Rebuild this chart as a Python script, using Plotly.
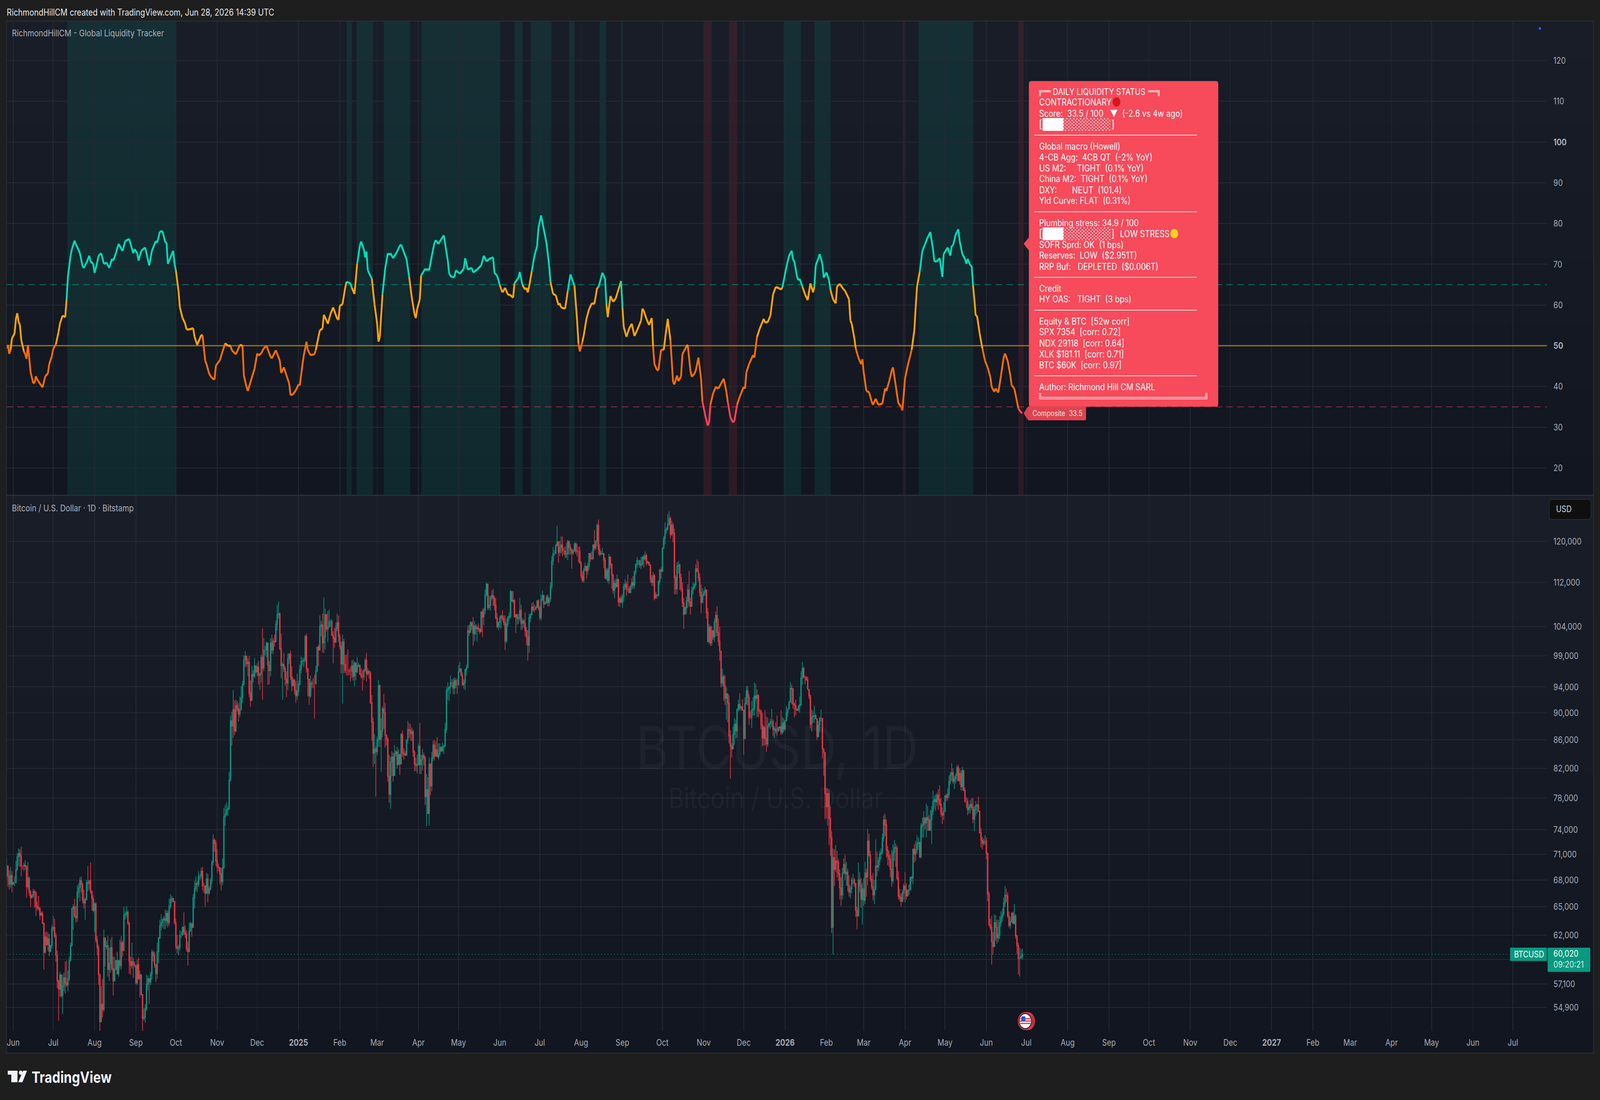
import plotly.graph_objects as go
import pandas as pd
import numpy as np

W, H = 4950, 2816
BASE = pd.Timestamp("2024-06-01")

# ---------------- data ----------------
# BTC daily bars, first bar 2024-05-27, values in thousand USD, ten bars per row
btc_high = [
70.6,69.7,69.1,69.5,69.0,67.8,68.4,70.2,71.1,71.7,
71.6,71.9,69.6,70.0,70.3,69.6,70.1,68.4,66.9,66.4,
67.0,66.9,66.6,65.6,66.2,65.0,64.5,64.5,63.3,62.3,
62.4,62.3,62.1,61.0,63.0,64.0,63.7,62.2,60.4,57.5,
58.3,58.0,58.0,58.2,59.3,59.4,58.4,59.8,61.2,64.9,
65.3,65.9,65.1,67.4,67.6,68.3,68.4,67.7,66.9,66.0,
68.0,69.6,68.0,70.0,66.8,66.3,65.5,65.5,61.9,61.0,
58.1,56.9,57.6,62.6,61.7,61.4,61.9,60.7,61.6,61.8,
59.8,59.8,59.3,60.3,59.4,61.5,61.9,61.4,65.0,64.5,
65.1,64.6,63.4,59.8,61.2,59.7,59.3,58.8,59.5,59.7,
58.4,57.9,56.0,54.8,55.2,58.0,57.9,57.7,58.3,60.5,
60.4,60.3,59.0,61.2,61.8,63.6,64.2,63.8,64.0,64.7,
64.6,64.6,65.9,66.4,66.2,66.0,65.6,63.7,62.0,61.0,
62.5,62.4,62.9,64.4,63.0,62.5,61.3,63.3,63.4,63.2,
66.4,67.9,68.4,67.9,69.0,68.7,69.4,69.5,67.7,67.4,
68.8,68.7,67.3,68.2,70.3,73.4,72.9,72.7,71.6,69.9,
69.4,69.4,70.5,76.7,77.1,77.4,77.0,81.5,89.6,90.2,
93.5,91.9,92.0,91.8,91.5,92.5,94.1,95.0,99.1,99.8,
99.0,98.6,99.0,95.0,97.4,96.7,98.7,97.4,97.8,98.2,
96.3,99.2,103.7,102.0,100.7,101.4,101.2,98.2,102.0,102.6,
102.0,102.6,105.1,107.9,108.5,106.5,102.8,97.9,99.5,97.3,
96.5,99.4,99.5,99.9,97.3,95.5,95.2,94.9,96.1,95.0,
97.6,98.9,98.7,98.8,102.6,102.8,97.0,95.3,95.8,95.0,
95.4,95.9,97.4,100.6,100.9,106.0,105.0,106.3,109.2,107.2,
106.3,106.8,107.0,105.2,105.3,103.2,103.8,104.7,106.3,106.0,
102.8,101.4,102.6,101.9,99.2,99.2,100.1,96.9,97.3,98.3,
98.4,98.1,98.0,98.8,97.9,97.6,97.0,96.7,96.9,98.7,
99.5,97.0,96.7,96.5,92.7,89.3,86.9,85.1,86.5,95.1,
94.4,89.2,91.0,92.9,91.5,86.8,86.4,83.9,83.6,84.4,
84.2,85.3,84.5,85.0,84.6,84.0,87.0,87.4,84.8,84.4,
86.0,88.8,88.5,88.3,87.8,87.5,84.5,83.5,83.9,85.5,
88.5,83.9,84.7,84.2,83.7,81.2,80.8,83.5,82.7,84.3,
85.9,86.0,85.8,86.4,85.5,85.5,85.1,85.6,85.3,88.5,
94.0,94.7,94.1,95.8,95.2,95.3,95.5,95.4,95.2,97.5,
98.0,96.9,96.3,95.2,96.9,97.6,104.2,104.3,105.0,104.9,
105.7,105.0,104.4,104.2,104.6,103.7,106.7,107.2,107.4,110.7,
112.0,111.8,109.6,109.5,110.5,110.8,109.5,109.1,106.4,104.9,
105.9,106.1,106.9,106.0,106.0,105.4,105.9,106.5,110.6,110.4,
110.4,108.9,106.2,106.3,106.2,109.1,107.9,105.5,105.3,106.5,
104.0,103.4,106.2,106.4,108.2,108.4,107.9,107.7,108.7,108.9,
107.7,109.7,110.5,109.7,108.5,109.7,109.8,109.2,112.0,117.1,
118.9,118.3,119.5,123.2,120.0,120.1,121.0,121.0,118.7,119.0,
119.7,120.3,120.1,119.5,118.6,118.4,119.8,119.8,119.5,118.9,
119.0,116.1,114.1,114.8,115.8,115.2,115.8,117.7,117.7,118.0,
119.3,122.3,120.1,123.7,124.5,119.4,118.1,118.7,117.6,116.8,
114.7,114.8,117.5,117.0,115.7,113.6,112.4,112.7,113.5,112.7,
109.3,109.6,109.9,111.8,112.6,112.2,113.5,111.3,111.6,112.8,
113.2,114.3,115.6,116.9,116.4,116.2,116.9,117.1,117.4,118.0,
117.6,116.2,115.9,115.5,113.4,114.0,113.6,110.2,109.7,112.4,
114.5,114.9,118.7,121.1,123.9,122.9,125.6,126.2,125.2,124.2,
123.8,122.6,113.4,115.9,116.1,115.6,113.7,112.0,109.1,107.6,
109.4,111.7,114.2,109.2,111.2,112.0,111.9,115.5,116.4,116.1,
113.7,111.6,110.9,110.5,111.2,110.7,107.3,104.5,104.2,104.1,
103.4,105.4,106.7,107.6,105.4,104.0,99.8,96.9,96.0,95.8,
93.9,93.0,92.7,87.4,85.5,88.0,89.2,89.0,90.7,92.0,
93.0,91.1,92.1,90.5,92.4,94.2,94.1,92.9,90.3,91.8,
92.4,94.7,94.5,93.6,92.8,90.6,90.5,90.0,88.1,90.4,
89.4,89.3,88.5,89.1,90.6,89.0,88.0,88.6,89.6,87.9,
88.0,90.4,89.4,89.2,88.9,91.0,90.6,91.9,94.8,94.4,
93.8,91.6,92.0,90.7,91.2,92.5,96.5,98.0,97.2,95.8,
95.6,95.6,93.6,92.8,90.5,90.3,91.1,89.8,89.1,88.8,
89.4,90.5,89.2,84.8,84.2,79.3,79.3,79.1,76.9,73.8,
71.7,71.6,72.1,71.4,70.4,69.2,68.3,69.4,70.5,70.9,
70.1,69.3,68.5,67.3,68.3,68.7,68.2,67.6,65.0,70.0,
68.9,68.2,67.7,68.2,70.1,69.3,74.1,73.5,71.4,68.5,
68.8,68.0,72.8,71.3,70.6,71.4,71.7,73.5,75.8,76.0,
75.3,72.0,71.4,71.0,71.5,72.2,72.7,72.3,72.0,69.0,
67.0,66.5,66.9,67.6,68.9,67.6,66.9,67.5,68.3,68.4,
71.6,72.2,72.6,73.3,73.0,72.5,74.8,75.5,76.3,75.6,
77.3,77.0,75.8,76.5,77.0,79.0,78.3,78.5,78.7,79.2,
79.7,78.0,76.8,77.5,78.4,78.6,79.3,81.0,81.5,82.7,
82.0,81.0,81.3,82.4,82.5,82.0,81.7,82.2,81.4,79.4,
78.1,78.0,77.2,77.8,78.0,78.0,77.0,77.6,77.3,78.2,
76.3,74.2,73.1,72.9,73.3,73.0,71.2,66.7,63.7,64.0,
62.3,64.2,64.1,63.6,63.6,64.0,64.5,64.8,66.0,67.3,
67.0,66.6,64.5,63.9,64.4,64.5,65.3,64.2,62.0,61.2,
60.7,60.5,60.6]

btc_low = [
68.0,67.2,66.9,67.1,66.6,67.4,67.3,67.6,69.0,69.6,
69.5,68.4,69.2,69.0,69.2,66.0,66.9,66.2,65.0,65.9,
66.0,64.9,64.0,64.6,64.6,63.6,64.0,63.2,58.5,60.2,
60.9,60.4,59.8,60.3,60.6,62.4,61.7,59.3,56.7,53.7,
55.9,55.8,54.3,56.4,56.2,56.8,56.4,57.4,59.3,60.8,
62.5,63.8,63.3,63.4,66.0,65.6,66.6,65.4,64.8,63.6,
65.7,66.7,66.9,66.4,64.6,64.4,62.3,61.2,59.9,57.0,
49.0,53.6,54.0,54.5,58.8,60.5,57.8,57.4,58.2,58.4,
56.0,57.4,58.6,58.0,57.8,58.6,58.5,59.8,60.4,63.6,
63.8,63.1,58.1,58.0,58.6,57.7,58.7,57.1,57.0,57.5,
55.8,56.0,52.5,53.7,53.5,54.6,56.5,55.2,57.0,57.5,
59.3,58.7,57.3,57.6,59.1,61.6,62.5,62.8,62.6,62.6,
63.0,62.8,63.0,64.8,65.4,65.5,63.1,60.5,60.1,59.9,
60.4,61.7,61.9,62.0,61.7,60.3,58.9,60.2,62.4,61.8,
62.7,64.8,66.7,66.6,67.2,68.0,68.1,66.8,66.5,65.0,
66.4,65.5,66.3,66.8,67.5,69.7,71.3,69.6,68.8,69.0,
67.5,66.8,67.4,69.3,74.5,75.7,75.7,76.5,80.2,85.2,
86.3,86.7,87.1,90.2,88.7,89.4,90.4,91.5,94.2,97.2,
97.2,95.7,92.4,90.9,91.8,94.7,95.4,96.1,95.7,94.4,
93.5,94.7,92.0,96.5,99.1,98.8,94.3,94.4,95.7,99.4,
99.3,100.6,101.3,103.3,105.4,100.0,95.4,92.0,96.4,94.2,
92.4,93.5,97.7,95.1,93.3,94.1,92.8,91.5,92.0,92.7,
94.2,96.2,97.5,97.2,97.9,96.3,92.5,91.2,92.3,93.8,
93.8,89.1,94.4,96.5,97.3,100.0,102.3,99.6,99.5,100.1,
103.2,101.3,103.9,104.0,102.6,97.8,100.4,101.3,103.2,101.3,
100.1,96.2,91.4,96.2,96.2,95.8,95.8,95.9,94.9,95.4,
95.0,94.1,95.1,96.2,97.2,96.0,95.3,93.4,95.1,96.4,
94.9,95.8,95.3,91.4,85.9,82.2,82.6,78.2,83.8,85.0,
85.0,81.5,86.4,87.6,84.9,85.2,80.2,77.4,76.6,80.9,
80.2,81.2,83.6,82.0,82.5,81.1,82.6,83.6,83.2,83.7,
83.8,85.5,86.3,85.9,85.8,83.6,81.6,81.6,81.3,82.4,
81.2,81.2,81.7,82.4,77.1,74.4,76.0,74.5,78.4,78.9,
83.0,83.1,83.6,83.6,83.2,83.7,84.3,84.4,84.0,85.1,
87.0,92.0,91.8,92.9,94.0,92.9,92.8,93.8,92.9,94.2,
96.4,95.8,94.2,93.7,93.5,95.8,97.0,102.4,102.9,103.4,
100.7,101.5,102.6,101.4,103.1,102.7,103.1,102.2,104.3,106.2,
109.4,106.9,107.0,106.8,108.8,107.7,106.9,105.3,103.7,103.4,
103.8,103.7,105.0,104.2,100.0,101.2,104.0,105.0,105.4,108.5,
108.2,105.7,102.9,104.3,104.5,105.0,103.4,103.5,103.8,102.3,
100.8,98.2,99.5,104.8,106.0,106.7,106.5,107.0,107.3,106.9,
105.2,105.1,108.5,107.3,107.9,108.1,107.6,107.6,108.4,110.7,
115.3,117.1,117.4,119.0,115.8,117.1,117.6,117.0,117.4,116.7,
116.7,116.3,117.4,117.3,114.6,117.3,117.9,117.5,117.0,115.9,
115.6,112.7,112.0,112.0,114.2,112.7,113.4,114.4,116.0,116.4,
116.5,118.1,118.3,119.0,117.3,117.0,117.3,117.4,114.7,112.7,
112.4,112.0,111.7,114.6,110.8,109.9,109.1,110.8,111.6,107.6,
107.5,108.2,107.3,108.5,110.6,109.5,110.3,110.0,110.1,110.7,
110.8,110.9,113.5,114.8,115.3,114.8,114.5,115.1,114.8,116.2,
115.2,115.6,115.2,112.0,111.4,111.3,108.7,109.1,109.0,109.4,
111.6,112.7,114.0,118.4,119.4,121.6,122.2,123.2,120.6,121.1,
119.8,109.8,109.8,109.8,113.7,110.6,110.3,107.5,103.6,106.3,
106.2,107.3,107.6,106.1,107.5,109.8,110.7,111.3,114.0,112.2,
109.4,106.4,108.4,109.4,109.6,105.4,101.4,101.0,100.7,100.7,
101.7,101.4,102.3,102.4,100.7,98.2,93.9,94.1,91.8,91.2,
89.0,88.6,85.5,80.6,83.5,84.7,85.3,86.2,86.3,90.2,
90.4,90.3,90.4,83.9,86.2,91.2,91.1,88.2,89.1,87.7,
89.6,89.6,91.7,89.3,89.4,89.8,87.5,85.1,85.2,85.2,
84.3,85.0,87.8,87.6,87.9,86.6,86.3,86.9,86.6,87.3,
87.4,86.7,86.8,87.1,87.3,88.7,89.4,90.6,91.6,91.3,
90.6,89.3,89.6,90.3,90.2,90.0,91.1,94.3,95.3,94.4,
95.0,93.6,92.1,87.7,87.2,88.5,88.5,89.1,86.0,86.4,
87.1,88.7,83.4,81.0,75.3,75.4,74.5,72.1,70.8,62.2,
60.0,67.3,68.9,68.3,67.9,65.8,65.1,65.8,68.7,68.0,
67.3,66.7,66.1,65.9,66.5,67.5,67.2,63.9,62.6,64.0,
66.6,64.9,63.1,65.1,65.3,66.1,67.4,70.7,67.8,66.9,
65.7,65.3,66.9,68.4,69.0,69.7,70.4,71.0,72.5,73.2,
70.6,69.7,69.5,68.3,67.2,67.6,70.2,69.5,68.0,65.8,
65.6,65.0,65.5,65.8,65.5,65.8,66.1,66.3,66.8,67.8,
67.5,70.0,70.2,71.1,71.6,70.5,70.5,73.0,73.0,74.0,
73.0,73.8,73.9,73.8,72.2,75.8,76.6,76.4,77.0,76.5,
77.0,75.6,74.7,75.2,76.2,77.6,77.7,78.0,79.8,80.3,
79.9,79.2,79.9,80.3,80.2,79.8,79.0,79.0,78.9,77.4,
76.7,75.8,76.0,76.0,76.4,74.8,73.8,75.7,76.0,76.2,
73.5,71.8,71.6,72.0,72.1,70.4,65.6,62.9,62.5,59.0,
60.0,60.8,61.4,61.1,61.3,61.6,62.9,63.4,64.0,65.0,
65.5,63.8,62.8,62.6,63.3,63.2,63.1,61.6,60.0,58.0,
57.8,59.6,59.5]

btc_close = [
69.6,68.4,67.5,68.5,67.5,67.7,67.7,69.2,70.7,71.1,
70.8,69.6,69.6,69.7,69.6,67.2,68.2,66.6,66.0,66.2,
66.7,66.6,65.1,64.9,64.8,64.1,64.3,63.2,60.2,61.8,
61.0,61.6,60.3,60.9,62.7,62.8,61.9,59.9,57.4,56.6,
58.0,56.0,56.9,57.7,57.2,57.0,57.6,59.4,60.9,64.8,
65.0,64.0,63.8,66.6,67.1,67.9,67.5,65.8,65.4,65.8,
67.7,67.6,67.9,66.7,65.9,64.6,65.3,61.5,60.7,58.0,
53.6,55.2,54.7,61.7,60.8,60.9,58.5,59.1,60.7,58.6,
57.4,58.5,59.4,58.1,59.4,58.9,61.2,60.4,64.1,64.2,
64.4,63.2,59.3,58.9,59.3,59.0,58.9,57.2,59.0,57.6,
58.0,56.1,53.9,54.0,54.8,57.1,57.6,57.3,58.0,60.2,
59.9,59.0,58.1,60.3,61.7,63.0,63.3,63.6,63.7,63.5,
64.3,63.3,65.1,65.8,65.9,65.6,63.3,60.8,60.6,60.7,
62.0,62.0,62.8,62.3,62.1,60.6,60.3,62.4,63.2,62.8,
66.0,67.0,67.6,67.5,68.4,68.4,69.0,67.3,67.3,66.5,
68.1,66.5,67.0,67.9,70.0,72.7,72.3,70.2,69.5,69.4,
68.7,67.8,69.4,75.6,75.9,76.5,76.6,80.4,88.8,88.0,
90.5,87.3,91.1,90.6,89.8,90.5,92.3,94.4,98.4,99.0,
97.7,98.0,93.0,91.9,96.0,95.7,97.4,96.4,97.2,95.8,
96.0,98.8,97.0,100.0,100.0,101.2,97.5,96.6,101.2,100.0,
101.5,101.4,104.4,106.1,106.3,100.2,97.4,97.6,96.9,95.2,
94.6,98.6,99.3,95.6,94.2,95.1,93.5,92.6,93.3,94.4,
96.8,98.1,98.2,98.3,102.3,96.9,95.2,92.6,94.6,94.5,
94.5,94.5,96.5,100.5,100.0,104.0,104.3,101.2,102.2,106.1,
103.6,103.9,104.9,104.9,102.5,102.0,101.3,103.7,104.7,102.3,
100.6,97.7,101.4,97.6,96.6,96.6,96.6,96.5,96.5,97.4,
95.7,97.8,96.4,97.4,97.5,96.0,95.7,95.6,96.6,98.3,
96.1,96.5,96.2,91.5,88.6,84.1,84.7,84.3,86.0,94.2,
86.1,87.3,90.6,90.0,86.7,86.1,80.9,78.5,82.9,83.6,
81.0,84.0,84.3,82.5,83.9,82.6,86.8,84.1,84.0,83.8,
86.0,87.5,87.4,86.9,87.2,84.3,82.6,82.4,82.5,85.1,
82.5,83.2,83.8,83.5,78.2,79.1,76.0,82.6,79.6,83.4,
85.3,83.7,84.6,83.6,84.0,84.9,84.4,85.0,85.1,87.5,
93.4,93.7,94.0,94.7,94.7,93.8,95.0,94.3,94.3,96.4,
96.9,95.8,94.3,94.7,96.8,97.1,103.3,103.0,104.7,104.1,
102.8,104.1,103.6,103.8,103.6,103.1,106.6,105.7,106.9,109.7,
111.7,107.4,107.8,109.2,109.6,109.1,107.8,105.5,104.0,104.7,
105.6,105.9,105.4,104.7,101.5,104.4,105.6,105.8,110.3,108.5,
108.7,105.7,106.1,105.4,105.5,106.9,104.6,105.0,104.6,103.3,
102.2,100.8,105.6,106.1,107.5,107.0,107.0,107.4,108.6,107.3,
105.6,108.8,109.6,108.0,108.2,109.3,108.3,109.0,111.3,116.1,
117.6,117.6,119.2,119.9,117.8,118.8,119.3,118.1,118.1,117.4,
117.5,120.0,118.8,118.3,117.7,118.0,119.5,118.1,118.0,118.0,
115.7,113.2,112.4,114.3,115.1,114.2,115.1,117.6,116.6,116.5,
119.3,118.7,120.1,123.3,118.4,117.4,117.5,117.6,116.3,112.8,
114.3,112.4,116.9,115.4,113.4,110.5,111.8,111.2,112.6,108.4,
109.0,108.3,109.3,111.2,111.7,110.8,110.8,110.1,111.2,112.0,
111.5,114.0,115.5,116.2,116.2,115.3,115.5,116.9,116.5,117.2,
115.7,115.9,115.3,112.7,112.0,113.3,109.1,109.7,109.6,112.2,
114.4,114.1,118.7,120.6,122.3,122.5,123.5,124.7,121.4,123.3,
121.7,112.9,110.8,115.1,115.3,112.9,110.8,108.2,106.2,107.3,
108.6,110.6,108.4,107.6,110.5,111.1,111.6,114.6,114.1,112.9,
110.1,108.3,109.6,110.1,110.6,106.5,101.4,103.9,101.2,103.3,
102.2,104.8,106.0,103.0,101.5,99.8,94.6,95.6,94.2,92.2,
92.9,91.5,86.6,85.1,84.7,86.8,88.3,87.3,90.5,91.3,
90.7,90.9,90.4,86.2,91.4,93.4,92.4,89.3,89.3,90.4,
90.6,92.6,92.2,92.7,90.3,90.2,88.2,86.3,87.8,86.2,
85.4,88.1,88.4,88.7,88.7,87.5,87.6,87.3,87.3,87.8,
87.9,87.1,88.5,87.6,88.8,90.0,90.6,91.6,93.8,93.7,
91.3,91.1,90.5,90.4,90.9,91.2,95.4,97.0,95.6,95.6,
95.1,93.6,92.6,88.3,89.4,89.5,89.6,89.1,86.5,88.2,
89.2,89.2,84.7,84.2,78.6,76.9,78.6,75.4,73.0,62.8,
70.6,69.2,70.2,70.0,68.7,67.1,66.3,68.8,69.8,68.7,
68.9,67.4,66.6,67.0,68.0,68.0,67.6,64.6,64.0,68.0,
67.4,65.8,67.0,65.7,68.8,68.3,72.6,70.9,68.1,67.2,
66.3,66.9,69.6,69.5,70.2,71.0,71.2,73.0,75.2,74.6,
71.5,70.8,70.4,69.2,67.9,71.2,71.8,71.7,68.2,66.2,
66.0,65.6,66.5,67.3,66.9,66.2,66.8,66.9,68.3,68.2,
71.6,71.0,71.5,72.3,72.4,70.7,74.4,74.6,75.4,74.8,
75.5,75.2,73.9,75.2,76.3,77.6,77.8,77.5,78.4,77.8,
77.2,76.0,75.8,76.3,78.3,78.1,78.5,80.2,81.1,81.4,
80.2,80.6,81.0,82.1,80.3,81.3,79.5,81.7,79.0,77.6,
77.6,76.5,76.8,77.2,76.8,75.3,76.5,77.0,77.1,76.3,
73.6,72.7,72.3,72.6,72.6,71.1,66.4,63.1,62.8,61.3,
60.8,63.3,62.8,61.7,62.0,63.3,63.9,64.2,65.4,66.3,
66.2,64.0,63.0,63.4,64.3,63.2,64.0,61.9,60.9,59.6,
59.7,59.8,60.02]
btc_first_open = 68.5
btc_first_day = "2024-05-27"
btc_last_price = 60020

# composite score: day number (0 = 2024-06-01) and value
comp_day = [
-5,-4,-3,-2,-1,1,2,3,4,5,6,8,9,10,11,12,13,15,16,17,18,20,22,24,26,27,29,30,32,34,35,37,39,40,41,43,44,46,47,49,
50,52,53,55,57,58,60,61,63,64,66,68,70,72,74,75,77,79,82,84,87,90,91,93,94,96,99,102,104,107,108,110,112,114,115,116,118,120,121,122,
124,125,127,129,130,132,135,136,138,141,142,144,145,147,149,151,152,154,155,157,159,161,163,164,167,168,170,172,173,175,176,178,181,183,184,186,188,190,193,194,
197,200,201,203,205,207,208,210,212,214,215,217,218,220,221,223,226,227,229,230,232,233,235,236,238,240,243,244,245,247,249,250,253,254,256,258,260,261,263,264,
265,266,268,269,271,273,274,275,277,279,281,282,283,285,288,290,291,294,295,297,299,301,302,303,305,306,308,309,310,311,312,314,316,317,319,321,323,326,327,329,
331,332,335,338,339,341,344,345,348,351,353,355,357,360,361,363,365,366,367,369,371,373,375,376,379,380,382,384,385,386,387,389,391,393,394,396,399,400,402,403,
405,407,409,410,411,414,416,418,420,421,423,424,425,427,428,430,432,434,436,438,439,441,442,444,445,446,448,450,452,454,456,457,458,460,462,464,466,468,471,472,
473,475,477,479,480,481,483,484,486,488,490,491,493,495,496,498,499,501,502,505,506,508,509,511,512,514,516,517,519,521,522,523,525,527,529,531,533,535,536,538,
540,541,543,545,546,548,549,550,552,555,556,558,560,563,564,566,568,570,572,574,576,577,580,582,584,585,586,588,589,590,592,594,596,598,600,601,602,604,605,607,
608,610,612,613,615,617,618,620,623,624,627,628,629,631,632,634,636,637,638,640,642,644,645,647,649,652,654,655,657,659,660,662,664,666,667,669,671,674,676,677,
678,680,682,684,686,688,690,691,693,695,697,698,701,703,704,705,707,709,710,712,714,715,716,718,719,720,721,722,723,725,727,729,731,733,734,736,737,739,741,743,
744,746,748,749,751,753,754,756,757]
comp_value = [
49.4,50.2,48.0,49.0,51.8,53.0,56.6,58.0,55.8,55.2,51.4,48.6,47.9,46.8,50.2,47.1,43.5,40.8,40.9,42.5,41.7,40.7,39.8,42.5,43.2,45.5,47.5,49.2,50.4,53.4,55.4,57.4,57.0,61.4,66.9,72.1,73.7,75.8,74.9,73.5,
72.7,69.5,69.1,70.4,72.1,70.7,70.1,67.9,70.5,72.1,72.7,70.1,70.4,69.1,71.3,70.9,72.7,75.0,73.3,75.7,76.2,72.7,73.7,72.7,70.9,73.3,74.1,69.7,73.3,75.7,75.3,78.0,78.1,75.4,75.3,70.1,71.7,73.3,70.1,68.5,
63.4,59.4,56.8,55.4,54.0,54.0,54.3,52.2,50.2,52.6,52.6,46.3,45.5,43.1,42.1,41.7,45.1,46.0,46.4,48.6,50.6,50.0,50.0,48.9,47.9,48.6,50.2,50.0,42.7,39.9,38.9,41.1,44.3,48.1,47.6,48.1,49.4,50.0,47.3,46.9,
48.9,46.3,43.3,44.7,42.7,40.7,37.9,38.1,39.1,40.5,40.3,45.5,47.7,51.0,48.9,47.7,47.9,49.0,52.2,53.8,54.2,57.6,56.2,55.4,57.8,59.4,56.6,56.4,59.8,60.2,64.2,65.7,65.3,64.2,62.7,70.1,74.5,75.6,73.7,71.7,
73.1,68.5,67.1,66.5,60.2,55.4,51.0,52.2,62.6,68.9,72.7,72.3,72.7,71.5,73.1,74.6,74.8,72.1,71.3,66.9,61.8,57.8,56.8,59.0,61.4,67.3,68.3,68.9,68.5,68.9,68.5,72.1,75.3,75.9,75.0,76.1,77.1,70.9,67.7,66.8,
66.9,68.5,67.7,68.9,71.5,68.7,69.1,68.0,68.7,69.7,72.1,70.7,71.3,71.7,67.9,67.2,64.9,63.9,63.1,64.2,62.6,62.4,61.8,65.3,66.7,68.1,64.9,63.8,64.2,63.1,64.5,68.3,72.1,74.5,78.9,82.0,76.9,75.3,69.7,65.7,
62.7,62.4,60.0,60.4,59.4,59.1,63.4,67.5,65.6,64.8,56.2,50.6,48.6,51.0,52.6,56.6,59.0,60.4,60.3,64.2,64.3,66.7,67.9,66.4,60.2,57.0,62.2,60.8,61.6,63.8,65.9,59.4,54.6,52.2,54.2,55.4,52.4,53.8,56.2,59.1,
58.6,56.6,55.1,56.8,49.8,45.5,44.0,44.0,49.0,49.0,54.2,56.6,51.4,41.1,40.5,42.7,41.3,42.5,47.9,49.8,50.2,43.9,42.4,43.1,43.9,47.1,41.9,36.3,33.1,30.4,31.2,35.5,38.3,39.9,39.5,40.7,41.9,38.7,36.3,32.4,
31.2,31.6,35.5,37.5,38.3,39.9,39.5,43.5,45.5,47.7,47.1,52.2,54.2,56.6,55.7,55.8,57.4,62.6,64.4,64.2,63.8,64.3,69.3,72.1,73.3,71.1,70.7,66.9,66.1,66.4,64.5,62.6,61.2,65.3,63.1,64.5,69.7,71.5,72.5,70.1,
66.7,68.0,66.1,63.8,61.4,60.4,64.5,65.2,63.8,63.5,61.4,56.2,55.4,51.8,49.4,47.1,45.5,46.7,43.5,38.9,38.6,36.3,35.5,37.0,35.5,35.8,39.5,38.9,41.1,43.9,44.7,40.3,35.9,35.1,34.1,41.9,45.1,49.0,53.8,59.4,
64.5,68.1,73.3,74.9,76.6,77.9,73.7,70.7,70.7,71.5,66.9,72.5,74.1,72.1,74.5,74.6,77.3,78.6,75.7,72.5,71.3,70.1,71.3,69.7,69.6,64.9,61.4,57.4,57.4,53.0,49.4,46.3,44.7,42.3,39.9,38.7,39.5,38.5,42.7,47.1,
48.1,46.3,42.7,40.3,39.5,36.3,34.6,33.6,33.5]

# shaded regimes, in day numbers
teal_start = [40.5,250.2,257.5,278.0,306.2,376.1,388.2,417.0,439.9,456.1,577.9,601.1,679.2]
teal_end = [122.4,253.9,269.9,297.8,365.3,382.2,403.7,421.0,444.8,457.4,591.0,613.2,720.2]
red_start = [518.2,536.9,667.3,754.1]
red_end = [524.0,543.0,668.5,758.0]

# levels and axes
level_bull, level_mid, level_bear = 65, 50, 35
upper_ticks = [120, 110, 100, 90, 80, 70, 60, 50, 40, 30, 20]
upper_labels = ["120", "110", "<b>100</b>", "90", "80", "70", "60", "<b>50</b>", "40", "30", "20"]
price_ticks = [120000, 112000, 104000, 99000, 94000, 90000, 86000, 82000, 78000, 74000, 71000, 68000, 65000, 62000, 59500, 57100, 54900]
# the 59,500 grid line has its label hidden behind the price tag in the reference
price_labels = ["120,000", "112,000", "104,000", "99,000", "94,000", "90,000", "86,000", "82,000", "78,000", "74,000", "71,000", "68,000", "65,000", "62,000", "", "57,100", "54,900"]
month_labels = ["Jun", "Jul", "Aug", "Sep", "Oct", "Nov", "Dec", "<b>2025</b>", "Feb", "Mar", "Apr", "May", "Jun", "Jul", "Aug", "Sep", "Oct", "Nov", "Dec",
                "<b>2026</b>", "Feb", "Mar", "Apr", "May", "Jun", "Jul", "Aug", "Sep", "Oct", "Nov", "Dec", "<b>2027</b>", "Feb", "Mar", "Apr", "May", "Jun", "Jul"]

NB = "\u00a0"
panel_rows = {
    1: "CONTRACTIONARY",
    2: f"Score:{NB}{NB}33.5 / 100{NB}{NB}{NB}▼{NB}{NB}(-2.6 vs 4w ago)",
    5: "Global macro (Howell)",
    6: f"4-CB Agg:{NB}{NB}4CB QT{NB}{NB}(-2% YoY)",
    7: f"US M2:{NB}{NB}{NB}{NB}{NB}TIGHT{NB}{NB}(0.1% YoY)",
    8: f"China M2:{NB}{NB}TIGHT{NB}{NB}(0.1% YoY)",
    9: f"DXY:{NB}{NB}{NB}{NB}{NB}{NB}{NB}NEUT{NB}{NB}(101.4)",
    10: f"Yld Curve: FLAT{NB}{NB}(0.31%)",
    12: "Plumbing stress: 34.9 / 100",
    14: f"SOFR Sprd: OK{NB}{NB}(1 bps)",
    15: f"Reserves:{NB}{NB}LOW{NB}{NB}($2.951T)",
    16: f"RRP Buf:{NB}{NB}{NB}DEPLETED{NB}{NB}($0.006T)",
    18: "Credit",
    19: f"HY OAS:{NB}{NB}{NB}TIGHT{NB}{NB}(3 bps)",
    21: f"Equity &amp; BTC{NB}{NB}[52w corr]",
    22: f"SPX 7354{NB}{NB}[corr: 0.72]",
    23: f"NDX 29118{NB}{NB}[corr: 0.64]",
    24: f"XLK $181.11{NB}{NB}[corr: 0.71]",
    25: f"BTC $60K{NB}{NB}[corr: 0.97]",
    27: "Author: Richmond Hill CM SARL",
}
panel_rules = [4, 11, 17, 20, 26]

# ---------------- helpers ----------------
def px(x): return x / W
def py(y): return 1 - y / H
def day(d): return (BASE + pd.to_timedelta(d, "D")).strftime("%Y-%m-%d %H:%M")

shapes, notes = [], []

def rect(x0, y0, x1, y1, fill, layer="above", line=None):
    shapes.append(dict(type="rect", xref="paper", yref="paper", x0=px(x0), x1=px(x1), y0=py(y0), y1=py(y1),
                       fillcolor=fill, line=dict(width=0 if line is None else 2, color=line or fill), layer=layer))

def hline(x0, x1, y, color, width=2, layer="above"):
    shapes.append(dict(type="line", xref="paper", yref="paper", x0=px(x0), x1=px(x1), y0=py(y), y1=py(y),
                       line=dict(color=color, width=width), layer=layer))

def vline(x, y0, y1, color, width=2, layer="above"):
    shapes.append(dict(type="line", xref="paper", yref="paper", x0=px(x), x1=px(x), y0=py(y0), y1=py(y1),
                       line=dict(color=color, width=width), layer=layer))

def circle(cx, cy, r, fill, layer="above"):
    shapes.append(dict(type="circle", xref="paper", yref="paper", x0=px(cx - r), x1=px(cx + r), y0=py(cy + r), y1=py(cy - r),
                       fillcolor=fill, line=dict(width=0), layer=layer))

def poly(points, fill, layer="above"):
    d = "M " + " L ".join(f"{px(a):.6f},{py(b):.6f}" for a, b in points) + " Z"
    shapes.append(dict(type="path", xref="paper", yref="paper", path=d, fillcolor=fill, line=dict(width=0), layer=layer))

def rrect(x0, y0, x1, y1, r, fill, stroke=None):
    P = lambda a, b: f"{px(a):.6f},{py(b):.6f}"
    d = (f"M {P(x0+r,y0)} L {P(x1-r,y0)} Q {P(x1,y0)} {P(x1,y0+r)} L {P(x1,y1-r)} Q {P(x1,y1)} {P(x1-r,y1)} "
         f"L {P(x0+r,y1)} Q {P(x0,y1)} {P(x0,y1-r)} L {P(x0,y0+r)} Q {P(x0,y0)} {P(x0+r,y0)} Z")
    shapes.append(dict(type="path", xref="paper", yref="paper", path=d, fillcolor=fill,
                       line=dict(width=2 if stroke else 0, color=stroke or fill), layer="above"))

def text(x, y, s, size=23, color="#ffffff", anchor="left", family="Inter"):
    notes.append(dict(xref="paper", yref="paper", x=px(x), y=py(y), text=s, showarrow=False, xanchor=anchor, yanchor="middle",
                      align=anchor, borderpad=0, font=dict(family=family, size=size, color=color)))

# ---------------- page chrome ----------------
PAGE = "#1e1e1e"
L_, R_, T_, B_ = 20, 4930, 54, 2696
SPLIT, PLOT_R, UP_B, LOW_T, LOW_B = 1268, 4786, 1268, 1270, 2639

def gradient(y0, y1, steps=36):
    c0, c1 = np.array([24, 29, 40]), np.array([17, 22, 32])
    for i in range(steps):
        c = c0 + (c1 - c0) * i / (steps - 1)
        rect(L_, y0 + (y1 - y0) * i / steps, R_, y1, f"rgb({c[0]:.0f},{c[1]:.0f},{c[2]:.0f})", layer="below")

gradient(T_, SPLIT)
gradient(SPLIT, B_)
BORDER = "#2b303b"
hline(L_, R_, T_, BORDER)
hline(L_, R_, B_, BORDER)
hline(L_, R_, SPLIT, BORDER, 3)
vline(L_, T_, B_, BORDER)
vline(R_, T_, B_, BORDER)

text(20, 31.5, "RichmondHillCM created with TradingView.com, Jun 28, 2026 14:39 UTC", 24, "#e6e8ee")
text(36, 85, "RichmondHillCM - Global Liquidity Tracker", 23.5, "#aeb1ba")
text(36, 1300, "Bitcoin / U.S. Dollar · 1D · Bitstamp", 23.5, "#aeb1ba")
text(2404, 1913, "BTCUSD, 1D", 153, "rgba(255,255,255,0.04)", "center")
text(2400, 2042, "Bitcoin / U.S. Dollar", 73, "rgba(255,255,255,0.04)", "center")

# TradingView logo
rect(24, 2741, 54, 2751, "#f0f3fa")
rect(35, 2741, 54, 2770.5, "#f0f3fa")
circle(64, 2746, 5.5, "#f0f3fa")
poly([(71.6, 2741), (83.5, 2741), (69.4, 2770.5), (56.4, 2770.5)], "#f0f3fa")
text(97, 2757, "<b>TradingView</b>", 40, "#f0f3fa")

circle(4764, 73, 3.5, "#2962ff")

# regime shading
for a, b in zip(teal_start, teal_end):
    shapes.append(dict(type="rect", xref="x", yref="y domain", x0=day(a), x1=day(b), y0=0, y1=1,
                       fillcolor="rgba(8,153,129,0.15)", line=dict(width=0), layer="below"))
for a, b in zip(red_start, red_end):
    shapes.append(dict(type="rect", xref="x", yref="y domain", x0=day(a), x1=day(b), y0=0, y1=1,
                       fillcolor="rgba(242,54,69,0.13)", line=dict(width=0), layer="below"))

# status panel
PANEL = "#f74a5b"
rrect(3183, 207.5, 3769, 1041, 7, PANEL)
poly([(3183, 608), (3167, 624), (3183, 641)], PANEL)
ROW0, ROWH = 234, 28
def row(i): return ROW0 + ROWH * i
for i in panel_rules:
    hline(3200, 3703, row(i), "rgba(255,255,255,0.88)", 2)
text(3210, row(0), "╔══", 22, "rgba(255,255,255,0.9)", family="DejaVu Sans Mono")
text(3256, row(0), "DAILY LIQUIDITY STATUS", 23.5)
text(3550, row(0), "══╗", 22, "rgba(255,255,255,0.9)", family="DejaVu Sans Mono")
text(3210, row(28), "╚" + "═" * 37 + "╝", 22.5, "rgba(255,255,255,0.85)", family="DejaVu Sans Mono")
for i, s in panel_rows.items():
    text(3214, row(i), s, 24)
BAR = "[███░░░░░░░]"
text(3214, row(3), BAR, 27.5, family="DejaVu Sans")
text(3214, row(13), BAR, 27.5, family="DejaVu Sans")
text(3464, row(13), "LOW STRESS", 24)
circle(3454, 261, 12, "#d8141c")
circle(3633, 598, 12, "#ffd21f")

# composite tag
rrect(3179, 1040, 3360, 1076, 4, "#e0434f")
poly([(3179, 1042), (3167, 1058), (3179, 1074)], "#e0434f")
text(3193, 1058, f"Composite{NB}{NB}33.5", 20, "#fbe4e6")

# price tags
rect(4672, 2426, 4786, 2460, "#089981")
text(4683, 2443, "BTCUSD", 23, "#ffffff")
rrect(4788, 2426, 4920, 2488, 3, "#089981")
text(4805, 2441, "60,020", 23, "#ffffff")
text(4805, 2469, "09:20:21", 23, "#d9f0ec")
rrect(4793, 1278, 4922, 1330, 8, "#0f0f0f", "#2a2e39")
text(4813, 1303, "USD", 23, "#d1d4dc")

# event flag
for dx in (7, 3.5, 0):
    circle(3172 + dx, 2614, 23, "#f23645")
    circle(3172 + dx, 2614, 20.5, "#1a1f2c")
circle(3172, 2614, 18, "#ffffff")
for yy, half in ((2608, 16), (2614, 17.5), (2620, 16)):
    rect(3172 - half, yy - 1.6, 3172 + half, yy + 1.6, "#e8394a")
rect(3160, 2602, 3172, 2614, "#2456c8")

# ---------------- traces ----------------
def seg_color(a, b, v):
    mid = (a + b) / 2
    if any(s <= mid <= e for s, e in zip(teal_start, teal_end)):
        return "#00dcb9"
    if v < level_bear + 0.2:
        return "#f7455c"
    if v < level_mid:
        return "#ff6d00"
    return "#ffa500"

x_range = [day(-5.09), day(1150.6)]
fig = go.Figure()

# level lines as traces so they sit over the grid and under the score
for lv, col, dash, wd in [(level_bull, "rgba(0,200,170,0.55)", "20px,14px", 2),
                          (level_mid, "#a9760f", "solid", 3),
                          (level_bear, "rgba(242,70,90,0.55)", "20px,14px", 2)]:
    fig.add_trace(go.Scatter(x=x_range, y=[lv, lv], mode="lines", line=dict(color=col, width=wd, dash=dash),
                             hoverinfo="skip", showlegend=False, xaxis="x", yaxis="y"))

colored = {}
for i in range(len(comp_day) - 1):
    c = seg_color(comp_day[i], comp_day[i + 1], (comp_value[i] + comp_value[i + 1]) / 2)
    xs, ys = colored.setdefault(c, ([], []))
    xs += [day(comp_day[i]), day(comp_day[i + 1]), None]
    ys += [comp_value[i], comp_value[i + 1], None]

for c, (xs, ys) in colored.items():
    fig.add_trace(go.Scatter(x=xs, y=ys, mode="lines", line=dict(color=c, width=5.5, shape="linear"),
                             hoverinfo="skip", showlegend=False, xaxis="x", yaxis="y"))

bar_days = pd.date_range(btc_first_day, periods=len(btc_close), freq="D")
opens = [btc_first_open] + btc_close[:-1]
k = 1000.0
fig.add_trace(go.Candlestick(
    x=bar_days,
    open=[v * k for v in opens], high=[v * k for v in btc_high], low=[v * k for v in btc_low], close=[v * k for v in btc_close],
    increasing=dict(line=dict(color="#089981", width=2), fillcolor="#089981"),
    decreasing=dict(line=dict(color="#f23645", width=2), fillcolor="#f23645"),
    whiskerwidth=0, hoverinfo="skip", showlegend=False, xaxis="x2", yaxis="y2"))

# last-price dotted line, ending at the BTCUSD tag
fig.add_trace(go.Scatter(x=[x_range[0], day(1122.9)], y=[btc_last_price, btc_last_price], mode="lines",
                         line=dict(color="#089981", width=2, dash="2px,8px"),
                         hoverinfo="skip", showlegend=False, xaxis="x2", yaxis="y2"))

GRID = "#242934"
TICKCOL = "#a9acb6"
month_ticks = pd.date_range("2024-06-01", periods=len(month_labels), freq="MS")
x_common = dict(type="date", range=x_range, tickmode="array", tickvals=month_ticks, showgrid=True, gridcolor=GRID, gridwidth=2,
                zeroline=False, showline=False, ticks="", domain=[px(L_), px(PLOT_R)], fixedrange=True)

fig.update_layout(
    width=W, height=H, autosize=False, margin=dict(l=0, r=0, t=0, b=0, pad=0),
    paper_bgcolor=PAGE, plot_bgcolor="rgba(0,0,0,0)", showlegend=False, dragmode=False,
    font=dict(family="Inter", size=23, color=TICKCOL),
    shapes=shapes, annotations=notes,
    xaxis=dict(**x_common, anchor="y", ticktext=month_labels, showticklabels=False),
    xaxis2=dict(**x_common, anchor="y2", ticktext=month_labels, showticklabels=True, rangeslider=dict(visible=False),
                tickfont=dict(family="Inter", size=23, color=TICKCOL), ticklabelstandoff=14),
    yaxis=dict(domain=[py(UP_B), py(T_)], range=[13.29, 129.68], side="right", anchor="x", tickmode="array",
               tickvals=upper_ticks, ticktext=upper_labels, showgrid=True, gridcolor=GRID, gridwidth=2, zeroline=False,
               showline=False, ticks="", ticklabelstandoff=19, tickfont=dict(family="Inter", size=23, color=TICKCOL), fixedrange=True),
    yaxis2=dict(domain=[py(LOW_B), py(LOW_T)], type="log", range=[np.log10(52786), np.log10(129466)], side="right", anchor="x2",
                tickmode="array", tickvals=price_ticks, ticktext=price_labels, showgrid=True, gridcolor=GRID, gridwidth=2,
                zeroline=False, showline=False, ticks="", ticklabelstandoff=19,
                tickfont=dict(family="Inter", size=23, color=TICKCOL), fixedrange=True),
)

# the browser window may be narrower than the chart: fit the whole figure to its width
fit = """document.body.style.margin='0';document.body.style.overflow='hidden';
var g=document.querySelector('.plotly-graph-div');var s=window.innerWidth/%d;
if(s<1){g.style.transformOrigin='0 0';g.style.transform='scaleX('+s+')';}""" % W
fig.write_html("out.html", config=dict(displayModeBar=False, responsive=False), post_script=fit)
